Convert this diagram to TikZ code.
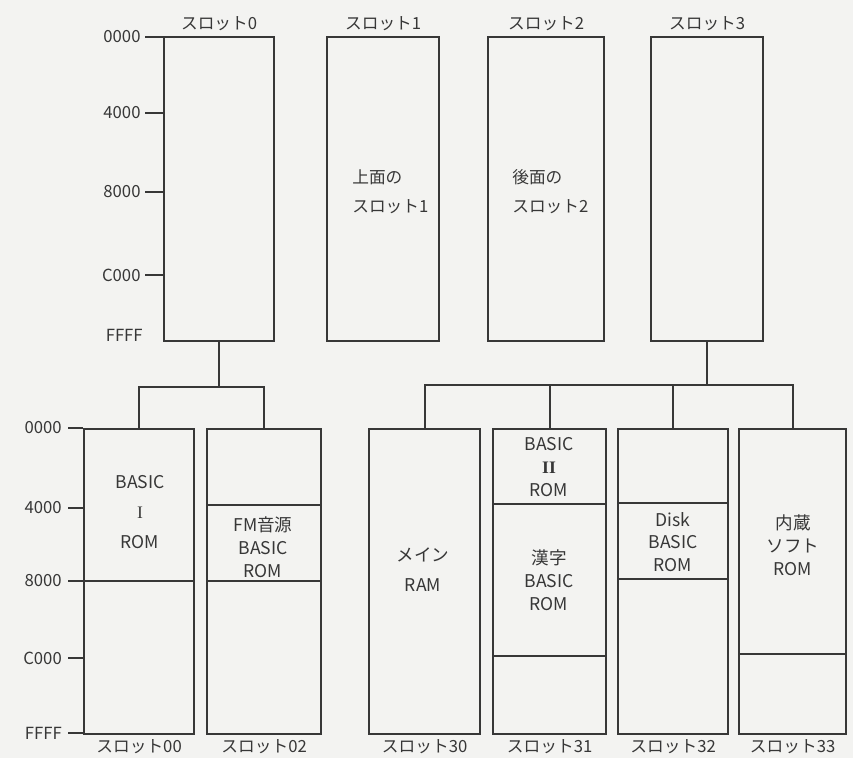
\documentclass[tikz,border=0pt]{standalone}
\usepackage{fontspec}
\setmainfont{Noto Sans CJK JP}
\newfontfamily\romanfont{Liberation Serif}
\usepackage{tikz}
\usetikzlibrary{positioning}
\definecolor{ink}{RGB}{55, 55, 55}
\definecolor{paper}{RGB}{243, 243, 241}

\begin{document}
\begin{tikzpicture}[x = 0.02cm, y = -0.02cm, color = ink,
  font = \fontsize{9.5}{12}\selectfont,
  upper/.style = {draw, line width = 1.3pt, inner sep = 0pt, anchor = north west,
    minimum width = #1, minimum height = 6.08cm},
  lower/.style = {upper = #1, minimum height = 6.1cm},
  wire/.style = {line width = 1.1pt},
  cut/.style = {line width = 1.1pt},
  slotname/.style = {inner sep = 1pt},
  note/.style = {align = left, anchor = west, inner sep = 0pt,
    font = \fontsize{9.5}{16.5}\selectfont},
  rom/.style = {align = center, inner sep = 0pt, font = \fontsize{10}{13}\selectfont}]
\fill[paper] (0,0) rectangle (853,758);
\useasboundingbox (0,0) rectangle (853,758);

\foreach \n/\x/\w in {0/163/2.2cm, 1/326/2.24cm, 2/487/2.32cm, 3/650/2.24cm}
{
\node[upper = \w] (s\n) at (\x,36) {};
\node[slotname, above = 2pt of s\n] (l\n) {スロット\n};
}
\foreach \n/\x/\w in {00/83/2.2cm, 02/206/2.28cm, 30/368/2.22cm, 31/492/2.26cm, 32/617/2.2cm, 33/738/2.14cm}
{
\node[lower = \w] (s\n) at (\x,428) {};
\node[slotname, below = 1pt of s\n] (l\n) {スロット\n};
}

\foreach \y/\a in {37/0000, 113/4000, 192/8000, 275/C000}
\draw[wire] (s0.west |- 0,\y) -- ++(-18,0) node[left = 2pt, inner sep = 0pt] (ua\a) {\a};
\node[anchor = east, inner sep = 0pt] (uaFFFF) at (143,335) {FFFF};
\foreach \y/\a in {428/0000, 508/4000, 581/8000, 658/C000, 733/FFFF}
\draw[wire] (s00.west |- 0,\y) -- ++(-15,0) node[left = 3pt, inner sep = 0pt] (la\a) {\a};

\foreach \b/\y in {s00/581, s02/505, s02/581, s31/504, s31/656, s32/503, s32/579, s33/654}
\draw[cut] (\b.west |- 0,\y) -- (\b.east |- 0,\y);

\coordinate (j0) at (s0.south |- 0,387);
\draw[wire] (s0.south) -- (j0);
\draw[wire] (s00.north) |- (j0) -| (s02.north);
\coordinate (j3) at (s3.south |- 0,385);
\draw[wire] (s3.south) -- (j3);
\draw[wire] (s30.north) |- (j3) -| (s33.north);
\foreach \b in {s31, s32}
\draw[wire] (\b.north) -- (\b.north |- j3);

\node[note] (t1) at (352,192) {上面の\\スロット1};
\node[note] (t2) at (512,192) {後面の\\スロット2};
\node[rom] (t00) at (140,512) {BASIC\\[4pt]{\romanfont I}\\[4pt]ROM};
\node[rom] (t02) at (263,547) {FM音源\\BASIC\\ROM};
\node[rom] (t30) at (423,570) {メイン\\[4pt]RAM};
\node[rom] (t31a) at (549,467) {BASIC\\{\romanfont\bfseries II}\\ROM};
\node[rom] (t31b) at (549,580) {漢字\\BASIC\\ROM};
\node[rom] (t32) at (673,542) {Disk\\BASIC\\ROM};
\node[rom] (t33) at (793,545) {内蔵\\ソフト\\ROM};
\end{tikzpicture}
\end{document}
